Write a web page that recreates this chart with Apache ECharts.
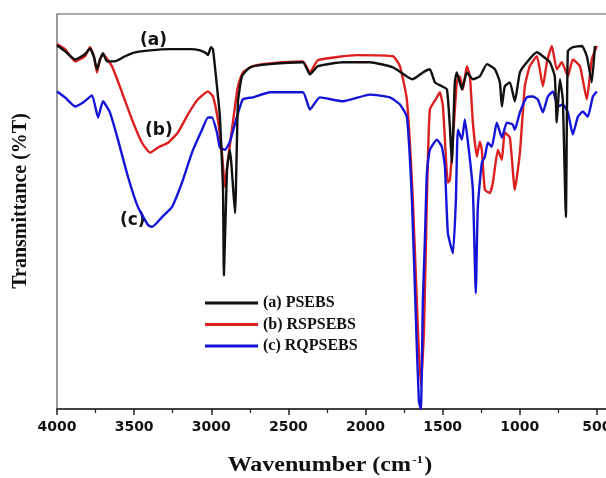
<!DOCTYPE html>
<html>
<head>
<meta charset="utf-8">
<script src="https://cdn.jsdelivr.net/npm/echarts@6/dist/echarts.min.js"></script>
<style>
html,body{margin:0;padding:0;background:#fff;overflow:hidden;}
#chart{width:680px;height:478px;}
</style>
</head>
<body>
<div id="chart"></div>
<script>
// Tick labels of the wavenumber axis
const xTicks = [4000, 3500, 3000, 2500, 2000, 1500, 1000, 500];

// (a) PSEBS
const psebsWn = [4000,3948,3883,3819,3786,3760,3741,3721,3702,3676,3624,3559,3494,3397,3268,3138,3073,3034,3021,3002,2989,2963,2944,2924,2918,2898,2879,2846,2827,2801,2749,2620,2406,2360,2308,2146,1971,1822,1732,1693,1628,1583,1550,1505,1472,1453,1440,1421,1408,1375,1343,1304,1259,1213,1161,1129,1116,1097,1064,1032,999,954,889,850,805,773,760,740,721,701,688,656,597,565,533,513];
const psebsT  = [92.1,90.6,88.5,89.8,91.3,89.1,86.0,88.5,90.1,88.0,88.0,89.3,90.3,90.8,91.1,91.1,90.8,90.1,89.6,91.6,91.1,81.7,74.0,56.2,33.8,60.6,65.6,49.6,77.6,84.2,86.5,87.3,87.8,84.7,86.8,87.8,87.8,86.5,84.2,83.5,85.2,86.0,82.7,81.7,80.9,71.5,62.3,82.7,85.2,80.9,85.2,83.5,84.2,87.3,86.0,82.7,76.6,81.7,82.7,77.9,85.2,87.8,90.3,89.3,87.8,84.2,72.5,83.5,78.4,48.6,90.6,91.6,91.9,89.3,82.7,91.9];

// (b) RSPSEBS
const rspsebsWn = [4000,3948,3883,3819,3786,3760,3741,3721,3702,3644,3579,3514,3449,3397,3345,3281,3216,3151,3086,3021,2989,2957,2931,2911,2892,2866,2846,2827,2795,2730,2620,2406,2360,2308,2056,1822,1777,1732,1693,1660,1641,1621,1602,1583,1537,1518,1498,1466,1453,1433,1408,1388,1369,1343,1323,1304,1278,1259,1246,1226,1194,1174,1142,1116,1097,1064,1032,999,967,935,889,850,824,792,760,727,688,656,610,565,533,500];
const rspsebsT  = [92.4,91.1,88.0,89.3,91.6,89.1,85.2,88.5,89.8,86.8,80.2,73.3,67.4,64.9,66.2,67.4,70.0,74.6,78.4,80.4,79.1,73.3,64.9,56.2,63.1,70.7,76.6,81.7,85.2,86.8,87.5,88.0,85.2,88.3,89.6,89.3,86.8,78.4,52.9,19.8,5.9,19.8,52.9,75.8,78.9,80.2,76.6,57.3,58.0,68.2,82.7,84.2,80.9,86.8,84.2,72.5,63.9,67.7,65.6,55.5,54.7,57.3,65.6,63.1,70.0,68.7,55.5,64.9,81.7,86.8,89.3,81.7,87.8,91.9,86.0,87.8,84.2,88.5,86.8,78.4,88.5,91.9];

// (c) RQPSEBS
const rqpsebsWn = [4000,3948,3883,3831,3773,3734,3702,3657,3605,3540,3475,3410,3384,3319,3255,3190,3125,3060,3021,2995,2963,2944,2911,2879,2833,2795,2730,2620,2406,2360,2296,2146,1971,1842,1777,1732,1699,1673,1654,1641,1628,1615,1602,1583,1537,1505,1485,1466,1433,1414,1401,1375,1356,1330,1304,1285,1272,1246,1226,1207,1181,1149,1116,1084,1045,1032,999,954,915,883,850,818,785,753,721,688,656,623,591,559,526,500];
const rqpsebsT  = [80.4,78.9,76.6,77.6,79.4,73.8,77.9,75.1,68.2,58.8,51.1,46.6,46.1,48.6,51.1,57.3,64.9,70.7,73.8,73.8,70.0,66.2,65.6,67.7,74.0,78.4,78.9,80.2,80.2,75.8,78.9,77.9,79.6,78.9,77.1,74.0,52.9,22.4,2.0,0.0,27.5,42.7,59.8,65.6,68.2,66.4,61.3,44.5,39.4,52.9,70.7,68.2,73.3,65.6,55.5,29.3,51.1,62.3,63.9,67.4,66.4,72.5,68.7,72.5,72.0,70.7,75.1,78.9,79.1,78.4,75.1,79.1,80.4,76.6,77.1,75.1,69.5,74.0,75.3,74.0,79.1,80.4];

const seriesNames = ['(a) PSEBS', '(b) RSPSEBS', '(c) RQPSEBS'];
const seriesColors = ['#111111', '#dc1f1f', '#1414d8'];

function zip(a, b) { return a.map((v, i) => [v, b[i]]); }

const chart = echarts.init(document.getElementById('chart'), null, {renderer: 'canvas'});

function lineSeries(name, color, data, z) {
  return {
    name: name, type: 'line', data: data, showSymbol: false, symbol: 'none',
    smooth: 0.15, z: z,
    lineStyle: {color: color, width: 2.4},
    itemStyle: {color: color},
    emphasis: {disabled: true}
  };
}

chart.setOption({
  animation: false,
  backgroundColor: '#ffffff',
  grid: {left: 57, right: 6, top: 14, bottom: 69, show: true, borderColor: '#555', borderWidth: 1.2, backgroundColor: 'transparent'},
  legend: {
    data: seriesNames,
    orient: 'vertical', left: 205, top: 295, padding: 0,
    icon: 'rect', itemWidth: 53, itemHeight: 3, itemGap: 5.5,
    textStyle: {fontFamily: 'Liberation Serif', fontWeight: 'bold', fontSize: 16, lineHeight: 16, color: '#111'}
  },
  xAxis: {
    type: 'value', inverse: true, min: 0, max: 4000, interval: 500,
    axisLine: {show: true, onZero: false, lineStyle: {color: '#222', width: 1.5}},
    axisTick: {show: true, inside: false, length: 6, lineStyle: {color: '#222', width: 1.5}},
    minorTick: {show: true, splitNumber: 2, length: 4, lineStyle: {color: '#222', width: 1.2}},
    splitLine: {show: false},
    axisLabel: {
      margin: 11, color: '#111', fontFamily: 'DejaVu Sans', fontWeight: 'bold', fontSize: 14,
      formatter: function (v) { return xTicks.indexOf(v) >= 0 ? String(v) : ''; }
    }
  },
  yAxis: {
    type: 'value', min: 0, max: 100,
    axisLine: {show: false}, axisTick: {show: false}, axisLabel: {show: false}, splitLine: {show: false}
  },
  graphic: [
    {type: 'text', left: 140, top: 32, style: {text: '(a)', font: 'bold 17px "DejaVu Sans"', fill: '#111'}},
    {type: 'text', left: 145, top: 122, style: {text: '(b)', font: 'bold 17px "DejaVu Sans"', fill: '#111'}},
    {type: 'text', left: 120, top: 212, style: {text: '(c)', font: 'bold 17px "DejaVu Sans"', fill: '#111'}},
    {type: 'text', x: 21, y: 201, rotation: Math.PI / 2,
      style: {text: 'Transmittance (%T)', font: 'bold 20px "Liberation Serif"', fill: '#111', align: 'center', verticalAlign: 'middle'}},
    {type: 'text', x: 330, y: 466, scaleX: 1.2,
      style: {
        text: '{a|Wavenumber (cm}{s|-1}{a|)}', align: 'center', verticalAlign: 'middle', fill: '#111',
        rich: {
          a: {fontFamily: 'Liberation Serif', fontWeight: 'bold', fontSize: 20, fill: '#111', color: '#111'},
          s: {fontFamily: 'Liberation Serif', fontWeight: 'bold', fontSize: 11, fill: '#111', color: '#111', padding: [0, 1, 12, 1]}
        }
      }}
  ],
  series: [
    lineSeries(seriesNames[1], seriesColors[1], zip(rspsebsWn, rspsebsT), 2),
    lineSeries(seriesNames[2], seriesColors[2], zip(rqpsebsWn, rqpsebsT), 3),
    lineSeries(seriesNames[0], seriesColors[0], zip(psebsWn, psebsT), 4)
  ]
});
</script>
</body>
</html>
